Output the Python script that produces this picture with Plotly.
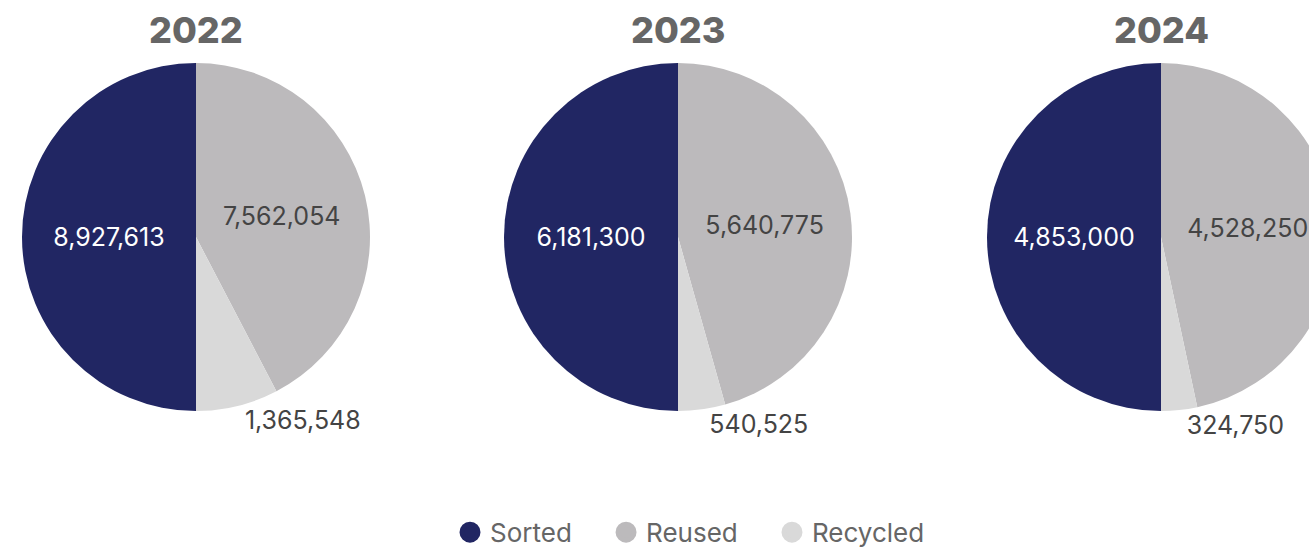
import plotly.graph_objects as go

years = ["2022", "2023", "2024"]
categories = ["Sorted", "Reused", "Recycled"]
sorted_vals = [8927613, 6181300, 4853000]
reused_vals = [7562054, 5640775, 4528250]
recycled_vals = [1365548, 540525, 324750]

colors = ["#212663", "#BCBABC", "#D9D9D9"]
W, H = 1380, 547

# pixel centers / radius used to build domains
centers_px = [196, 678, 1161]
cy_px, r_px = 237, 174

fig = go.Figure()
for i, yr in enumerate(years):
    cx = centers_px[i]
    dom_x = [(cx - r_px) / W, (cx + r_px) / W]
    dom_y = [1 - (cy_px + r_px) / H, 1 - (cy_px - r_px) / H]
    fig.add_trace(go.Pie(
        labels=categories,
        values=[sorted_vals[i], reused_vals[i], recycled_vals[i]],
        sort=False,
        direction="clockwise",
        rotation=180,
        marker=dict(colors=colors, line=dict(width=0)),
        texttemplate="%{value:,}",
        textposition=["inside", "inside", "outside"],
        insidetextorientation="horizontal",
        textfont=dict(family="Inter, sans-serif", size=25,
                      color=["#FFFFFF", "#444444", "#444444"]),
        domain=dict(x=dom_x, y=dom_y),
        showlegend=False,
        hoverinfo="label+value",
    ))
    fig.add_annotation(
        text=yr, x=cx / W, y=1 - 30 / H, xref="paper", yref="paper",
        showarrow=False, xanchor="center", yanchor="middle",
        font=dict(family="Inter, sans-serif", size=36, color="#666666", weight=800),
    )

# legend entries (circle markers); non-breaking spaces widen the gap between items
pad = "\u00a0" * 4
for k, (name, col) in enumerate(zip(categories, colors)):
    fig.add_trace(go.Scatter(
        x=[None], y=[None], mode="markers",
        name=name + (pad if k < len(categories) - 1 else ""),
        marker=dict(symbol="circle", size=16, color=col,
                    line=dict(color=col, width=5)),
        showlegend=True,
    ))

fig.update_layout(
    width=W, height=H,
    margin=dict(l=0, r=0, t=0, b=0, autoexpand=False),
    paper_bgcolor="white", plot_bgcolor="white",
    xaxis=dict(visible=False), yaxis=dict(visible=False),
    legend=dict(orientation="h", x=0.5, xanchor="center", y=-0.016, yanchor="bottom",
                font=dict(family="Inter, sans-serif", size=26, color="#666666"),
                itemwidth=30, tracegroupgap=0),
)

post = ("document.body.style.margin='0';document.body.style.overflow='hidden';"
        "document.documentElement.style.overflow='hidden';")
fig.write_html("out.html", post_script=post)
